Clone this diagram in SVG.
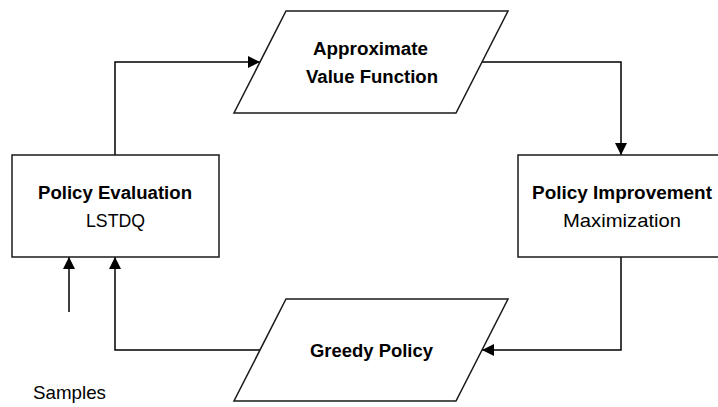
<svg xmlns="http://www.w3.org/2000/svg" width="718" height="407" viewBox="0 0 718 407">
<style>
.shape{fill:#fff;stroke:#1a1a1a;stroke-width:1.5}
.conn{fill:none;stroke:#000;stroke-width:1.5}
.b{font-family:"Liberation Sans",Arial,sans-serif;font-weight:bold;font-size:18.8px;fill:#000;text-anchor:middle}
.r{font-family:"Liberation Sans",Arial,sans-serif;font-size:19px;fill:#000;text-anchor:middle}
</style>
<defs>
<marker id="ah" markerUnits="userSpaceOnUse" markerWidth="12" markerHeight="12" refX="12" refY="6" orient="auto">
<path d="M0,0 L12,6 L0,12 z" fill="#000"/>
</marker>
</defs>
<rect width="718" height="407" fill="#fff"/>
<g id="connectors">
<path class="conn" d="M115,155 V62 H260" marker-end="url(#ah)"/>
<path class="conn" d="M482,62 H621 V155" marker-end="url(#ah)"/>
<path class="conn" d="M621,257 V350 H482" marker-end="url(#ah)"/>
<path class="conn" d="M260,350 H115 V257" marker-end="url(#ah)"/>
<path class="conn" d="M69,312 V257" marker-end="url(#ah)"/>
</g>
<g id="policy-evaluation">
<rect class="shape" x="12" y="155" width="207" height="102"/>
<text class="b" x="115" y="199" textLength="154" lengthAdjust="spacingAndGlyphs">Policy Evaluation</text>
<text class="r" x="115.5" y="227" textLength="59" lengthAdjust="spacingAndGlyphs">LSTDQ</text>
</g>
<g id="policy-improvement">
<rect class="shape" x="518" y="155" width="207" height="102"/>
<text class="b" x="622" y="199" textLength="180" lengthAdjust="spacingAndGlyphs">Policy Improvement</text>
<text class="r" x="622" y="227" textLength="118" lengthAdjust="spacingAndGlyphs">Maximization</text>
</g>
<g id="approximate-value-function">
<polygon class="shape" points="286,11 508,11 456,113 234,113"/>
<text class="b" x="370.5" y="55" textLength="115" lengthAdjust="spacingAndGlyphs">Approximate</text>
<text class="b" x="372" y="83" textLength="132" lengthAdjust="spacingAndGlyphs">Value Function</text>
</g>
<g id="greedy-policy">
<polygon class="shape" points="286,299 508,299 456,401 234,401"/>
<text class="b" x="371.5" y="357" textLength="123" lengthAdjust="spacingAndGlyphs">Greedy Policy</text>
</g>
<g id="samples">
<text class="r" x="69.5" y="399" textLength="73" lengthAdjust="spacingAndGlyphs">Samples</text>
</g>
</svg>
